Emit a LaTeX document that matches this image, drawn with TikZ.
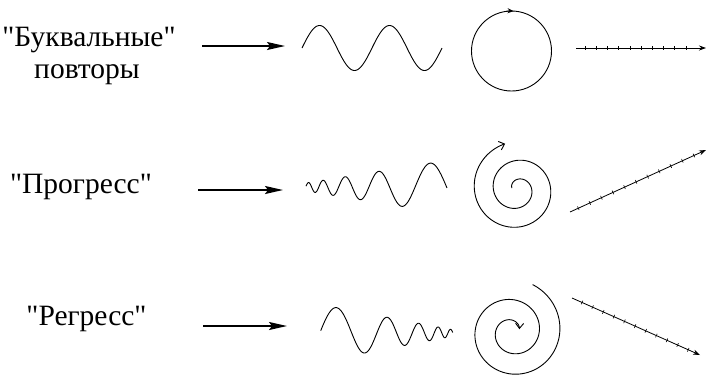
\documentclass[tikz,border=0pt]{standalone}
\usepackage{fontspec}
\setmainfont{Liberation Serif}
\usetikzlibrary{calc, arrows.meta}
\tikzset{ lbl/.style = { inner sep = 0pt
                       , anchor    = base
                       , font      = \fontsize{29.5bp}{35bp}\selectfont
                       },
          bigarrow/.style = { line width = 1.6bp
                            , -{Stealth[length=18bp, width=8bp, inset=3bp]}
                            },
          curve/.style = { line width = 0.9bp
                         , line join  = round
                         },
          axis/.style = { line width = 0.8bp
                        , -{Stealth[length=7bp, width=5bp]}
                        },
          tick/.style = { line width = 0.6bp }
        }
\newcommand{\qq}[1]{\textquotedbl#1\textquotedbl}

\begin{document}
\begin{tikzpicture}[x=1bp, y=-1bp]
  \useasboundingbox (0,0) rectangle (706,376);
  % row 1: repeats
  \node[lbl] (bukv) at (89,46) {\qq{Буквальные}};
  \node[lbl] (povt) at (87,78) {повторы};
  \coordinate (a1s) at (202,46);
  \coordinate (a1e) at (285,46);
  \draw[bigarrow] (a1s) -- (a1e);
  \draw[curve] plot[domain=302:442, samples=150] (\x, {48 - 22.5*sin((\x-302)*5.142857)});
  \coordinate (c1) at (511.5,51);
  \draw[curve] (c1) circle[radius=40];
  \draw[curve, -{Stealth[length=6bp, width=5bp]}] (c1) ++(262:40) arc[start angle=262, end angle=273, radius=40];
  \coordinate (l1s) at (576,48);
  \coordinate (l1e) at (706,48);
  \draw[axis] (l1s) -- (l1e);
  \foreach \p in {0,...,9}
    \draw[tick] ($(l1s)!0.069+\p*0.0863!(l1e)!2bp!90:(l1e)$)
             -- ($(l1s)!0.069+\p*0.0863!(l1e)!2bp!-90:(l1e)$);

  % row 2: progress
  \node[lbl] (prog) at (81,193) {\qq{Прогресс}};
  \coordinate (a2s) at (198,190);
  \coordinate (a2e) at (283,190);
  \draw[bigarrow] (a2s) -- (a2e);
  \draw[curve] plot[domain=306:447, samples=300] (\x, {187 - 0.16*(\x-281)*sin(853*ln((\x-281)/149)+90)});
  \draw[curve, -{Straight Barb[length=5bp, width=9bp]}]
    plot[domain=-170:615, samples=250, variable=\t]
    ({517.25+(14.4+0.0528*\t)*cos(\t)}, {189+(14.4+0.0528*\t)*sin(\t)});
  \coordinate (l2s) at (570,212);
  \coordinate (l2e) at (706,150);
  \draw[axis] (l2s) -- (l2e);
  \foreach \p in {0,...,10}
    \draw[tick] ($(l2s)!0.061+\p*0.085!(l2e)!2bp!90:(l2e)$)
             -- ($(l2s)!0.061+\p*0.085!(l2e)!2bp!-90:(l2e)$);

  % row 3: regress
  \node[lbl] (regr) at (86.5,325) {\qq{Регресс}};
  \coordinate (a3s) at (203,326);
  \coordinate (a3e) at (287,326);
  \draw[bigarrow] (a3s) -- (a3e);
  \draw[curve] plot[domain=320.7:452.7, samples=300] (\x, {333 - 0.19*(470-\x)*sin(-753*ln((470-\x)/133.3)+90)});
  \draw[curve, -{Straight Barb[length=5bp, width=8bp]}]
    plot[domain=-66.7:700, samples=250, variable=\t]
    ({512.3+(47.5-0.057*\t)*cos(\t)}, {331.7+(47.5-0.057*\t)*sin(\t)});
  \coordinate (l3s) at (572,298);
  \coordinate (l3e) at (700,355);
  \draw[axis] (l3s) -- (l3e);
  \foreach \p in {0,...,10}
    \draw[tick] ($(l3s)!0.078+\p*0.083!(l3e)!2bp!90:(l3e)$)
             -- ($(l3s)!0.078+\p*0.083!(l3e)!2bp!-90:(l3e)$);
\end{tikzpicture}
\end{document}
